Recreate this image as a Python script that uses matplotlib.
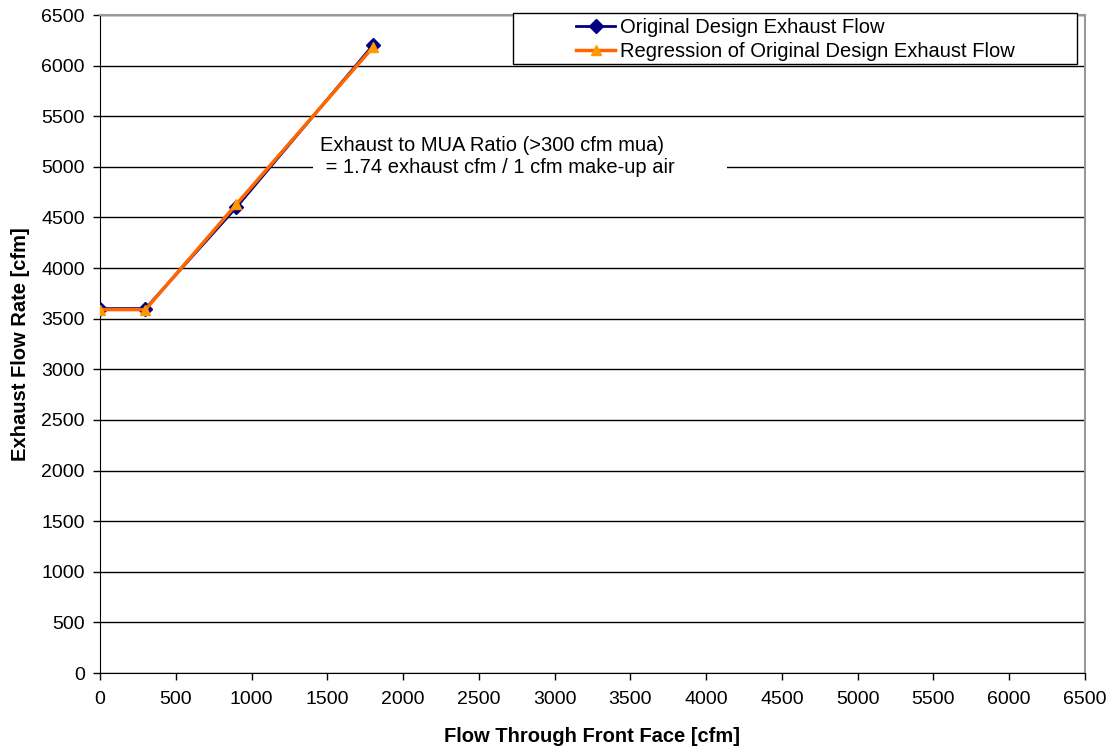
import matplotlib
matplotlib.use("Agg")
from matplotlib import pyplot as plt
from matplotlib.patches import Rectangle

plt.rcParams['font.family'] = ['Liberation Sans', 'DejaVu Sans']

flowFront = [0, 300, 900, 1800]
exhaustOriginal = [3600, 3600, 4600, 6200]
exhaustRegression = [3590, 3590, 4630, 6180]

xTicks = list(range(0, 6501, 500))
yTicks = list(range(0, 6501, 500))

W, H = 1112, 750
fig = plt.figure(figsize=(W/100, H/100), dpi=100)
ax = fig.add_axes([100/W, 77/H, 985/W, 658/H])

ax.plot(flowFront, exhaustOriginal, color='#000080', lw=2, marker='D', ms=7,
        label='Original Design Exhaust Flow', zorder=3)
ax.plot(flowFront, exhaustRegression, color='#FF6600', lw=2.5, marker='^', ms=7,
        mfc='#FF9900', mec='#FF9900', label='Regression of Original Design Exhaust Flow', zorder=4)

ax.set_xlim(0, 6500)
ax.set_ylim(0, 6500)
ax.set_xticks(xTicks)
ax.set_yticks(yTicks)
ax.tick_params(labelsize=14, length=5, direction='out', width=1)
ax.tick_params(axis='x', pad=8)
ax.tick_params(axis='y', pad=6)
ax.yaxis.grid(True, color='black', lw=1)
ax.set_axisbelow(True)

for s in ['top', 'right']:
    ax.spines[s].set_color('#999999')
    ax.spines[s].set_linewidth(1.5)
for s in ['left', 'bottom']:
    ax.spines[s].set_color('black')

ax.set_xlabel('Flow Through Front Face [cfm]', fontsize=14.5, fontweight='bold', labelpad=14)
ax.set_ylabel('Exhaust Flow Rate [cfm]', fontsize=14.5, fontweight='bold', labelpad=8)

# white box behind the ratio note (hides gridline like the original text box)
ax.add_patch(Rectangle((313/W, (H-185)/H), 414/W, 55/H, transform=fig.transFigure,
                       facecolor='white', edgecolor='none', clip_on=False, zorder=2))
ax.text(1452, 5102, 'Exhaust to MUA Ratio (>300 cfm mua)\n = 1.74 exhaust cfm / 1 cfm make-up air',
        fontsize=14.5, linespacing=1.15, va='center', ha='left', zorder=5)

# legend frame drawn separately so it can be wider than its entries
ax.add_patch(Rectangle((513/W, (H-64)/H), 564/W, 51/H, transform=fig.transFigure,
                       facecolor='white', edgecolor='black', lw=1, clip_on=False, zorder=6))
leg = ax.legend(loc='upper left', bbox_to_anchor=(576/W, (H-18)/H), bbox_transform=fig.transFigure,
                fontsize=14.5, frameon=False, borderpad=0, handlelength=1.95,
                handletextpad=0.25, labelspacing=0.25, borderaxespad=0)
leg.set_zorder(7)

fig.savefig('out.png', dpi=100)
